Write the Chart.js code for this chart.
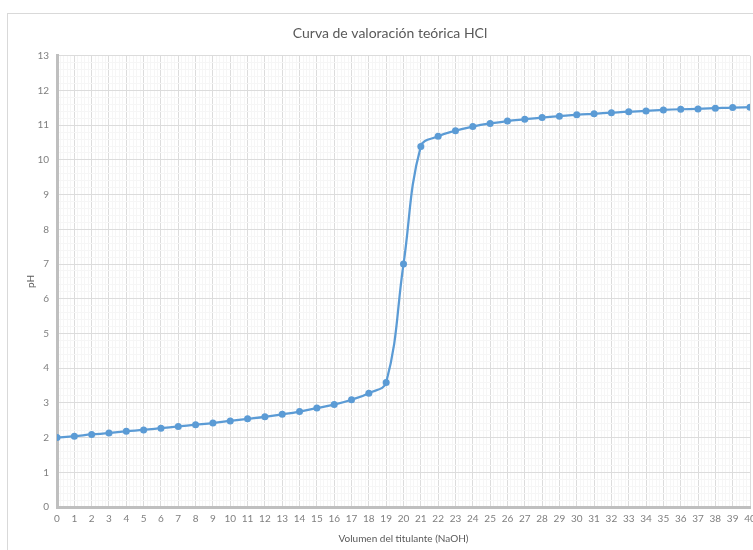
<!DOCTYPE html>
<html>
<head>
<meta charset="utf-8">
<script src="https://cdn.jsdelivr.net/npm/chart.js@4"></script>
<style>
    html, body { margin: 0; padding: 0; background: #fff; overflow: hidden; }
    #frame {
        position: absolute; left: 7px; top: 13px;
        width: 770px; height: 545px;
        border: 1px solid #d9d9d9; background: #fff;
    }
</style>
</head>
<body>
<div id="frame"><canvas id="phChart" width="770" height="545"></canvas></div>
<script>
// Volumen de NaOH añadido (mL) y pH
const volumes = [0, 1, 2, 3, 4, 5, 6, 7, 8, 9, 10, 11, 12, 13, 14, 15, 16, 17, 18, 19, 20,
    21, 22, 23, 24, 25, 26, 27, 28, 29, 30, 31, 32, 33, 34, 35, 36, 37, 38, 39, 40];
const phValues = [2.00, 2.04, 2.09, 2.13, 2.18, 2.22, 2.27, 2.32, 2.37, 2.42, 2.48,
    2.54, 2.60, 2.67, 2.75, 2.85, 2.95, 3.09, 3.28, 3.59, 7.00,
    10.39, 10.68, 10.84, 10.96, 11.05, 11.12, 11.17, 11.22, 11.26, 11.30,
    11.33, 11.36, 11.39, 11.41, 11.44, 11.46, 11.47, 11.49, 11.51, 11.52];

const chartTitle = 'Curva de valoración teórica HCl';
const xTitle = 'Volumen del titulante (NaOH)';
const yTitle = 'pH';

const FONT = 'Lato, "Open Sans", sans-serif';
const isMajor = v => Math.abs(v - Math.round(v)) < 1e-6;
const gridColor = ctx => isMajor(ctx.tick.value) ? '#dcdcdc' : '#f6f6f6';
const intLabel = v => isMajor(v) ? Math.round(v) : '';

const ctx = document.getElementById('phChart').getContext('2d');
new Chart(ctx, {
    type: 'line',
    data: {
        datasets: [{
            label: 'pH',
            data: volumes.map((v, i) => ({ x: v, y: phValues[i] })),
            borderColor: '#5b9bd5',
            backgroundColor: '#5b9bd5',
            borderWidth: 2.25,
            pointRadius: 3.5,
            pointBorderWidth: 0,
            tension: 0.4,
            fill: false
        }]
    },
    options: {
        responsive: false,
        animation: false,
        layout: { padding: { left: 22, right: 28, top: 0, bottom: 14 } },
        plugins: {
            legend: { display: false },
            tooltip: { enabled: false },
            title: {
                display: true,
                text: chartTitle,
                color: '#595959',
                font: { family: FONT, size: 14, weight: 'normal' },
                padding: { top: 11, bottom: 14 }
            }
        },
        scales: {
            x: {
                type: 'linear',
                min: 0,
                max: 40,
                border: { color: '#bfbfbf', width: 3 },
                grid: { color: gridColor, drawTicks: false },
                ticks: {
                    stepSize: 0.2,
                    maxTicksLimit: 1000,
                    autoSkip: false,
                    maxRotation: 0,
                    minRotation: 0,
                    padding: 6,
                    color: '#7f7f7f',
                    font: { family: FONT, size: 10 },
                    callback: intLabel
                },
                title: {
                    display: true,
                    text: xTitle,
                    color: '#595959',
                    font: { family: FONT, size: 10 },
                    padding: { top: 2, bottom: 0 }
                }
            },
            y: {
                min: 0,
                max: 13,
                border: { color: '#bfbfbf', width: 3 },
                grid: { color: gridColor, drawTicks: false },
                ticks: {
                    stepSize: 0.2,
                    maxTicksLimit: 1000,
                    autoSkip: false,
                    padding: 8,
                    color: '#7f7f7f',
                    font: { family: FONT, size: 10 },
                    callback: intLabel
                },
                title: {
                    display: true,
                    text: yTitle,
                    color: '#595959',
                    font: { family: FONT, size: 10 },
                    padding: { top: -5, bottom: 0 }
                },
                afterFit: scale => { scale.width = 27; }
            }
        }
    }
});
</script>
</body>
</html>
